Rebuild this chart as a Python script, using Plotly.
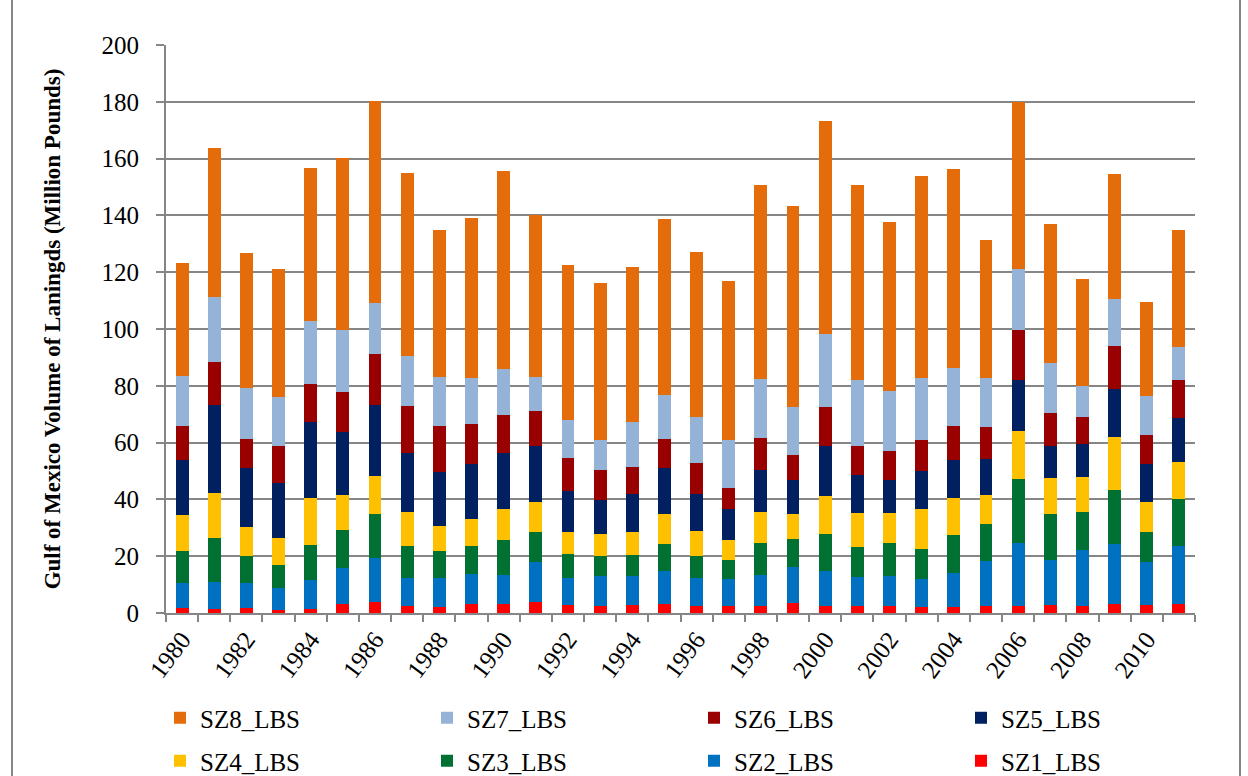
import plotly.graph_objects as go

years = list(range(1980, 2012))

SZ1_LBS = [1.8, 1.3, 1.8, 0.9, 1.3, 3.1, 3.8, 2.3, 2.2, 3.1, 3.1, 3.8, 2.8, 2.6, 2.9, 3.1,
           2.5, 2.5, 2.5, 3.4, 2.5, 2.5, 2.5, 2.1, 2.1, 2.3, 2.5, 2.8, 2.3, 3.2, 2.8, 3.2]
SZ2_LBS = [8.6, 9.6, 8.8, 7.9, 10.3, 12.7, 15.6, 10.1, 10.0, 10.6, 10.4, 14.0, 9.5, 10.4, 10.1, 11.8,
           9.8, 9.4, 11.0, 12.8, 12.2, 10.2, 10.6, 10.0, 12.0, 16.1, 22.0, 15.9, 19.8, 21.1, 15.2, 20.4]
SZ3_LBS = [11.3, 15.5, 9.6, 8.2, 12.3, 13.3, 15.6, 11.3, 9.5, 9.9, 12.1, 10.8, 8.4, 7.2, 7.4, 9.5,
           7.8, 6.6, 11.1, 9.7, 13.0, 10.5, 11.4, 10.6, 13.5, 12.8, 22.8, 16.0, 13.3, 19.0, 10.6, 16.7]
SZ4_LBS = [12.9, 15.7, 10.2, 9.4, 16.5, 12.4, 13.4, 11.7, 8.9, 9.4, 11.1, 10.6, 7.8, 7.6, 8.1, 10.3,
           8.9, 7.3, 11.1, 9.1, 13.6, 12.0, 10.8, 14.0, 12.8, 10.3, 16.9, 12.7, 12.4, 18.6, 10.6, 12.8]
SZ5_LBS = [19.4, 31.0, 20.5, 19.3, 26.9, 22.1, 24.8, 20.9, 19.0, 19.6, 19.5, 19.7, 14.3, 12.0, 13.5, 16.5,
           12.9, 10.7, 14.5, 11.7, 17.5, 13.4, 11.5, 13.2, 13.5, 12.7, 18.0, 11.4, 11.7, 17.1, 13.1, 15.6]
SZ6_LBS = [11.7, 15.4, 10.3, 13.0, 13.2, 14.3, 17.9, 16.7, 16.1, 13.9, 13.6, 12.1, 11.9, 10.4, 9.5, 10.0,
           11.0, 7.6, 11.4, 8.9, 13.9, 10.1, 10.2, 10.9, 11.8, 11.4, 17.6, 11.7, 9.6, 14.9, 10.3, 13.2]
SZ7_LBS = [17.9, 22.8, 17.9, 17.2, 22.2, 21.9, 17.9, 17.6, 17.3, 16.2, 16.2, 12.2, 13.4, 10.8, 15.8, 15.7,
           16.2, 16.9, 20.8, 16.8, 25.7, 23.5, 21.2, 22.1, 20.6, 17.1, 21.2, 17.5, 10.9, 16.6, 13.9, 11.6]
SZ8_LBS = [39.7, 52.3, 47.8, 45.4, 53.9, 60.5, 71.3, 64.5, 51.8, 56.4, 69.5, 57.0, 54.3, 55.1, 54.6, 61.9,
           57.9, 55.9, 68.2, 70.8, 74.9, 68.6, 59.4, 70.8, 70.1, 48.8, 59.0, 49.0, 37.7, 44.1, 32.9, 41.4]

tick_years = list(range(1980, 2011, 2))
tick_labels = [str(y) for y in tick_years]

# (name, values, colour, legend row, position in row)
series = [
    ("SZ1_LBS", SZ1_LBS, "#FF0000", "legend2", 4),
    ("SZ2_LBS", SZ2_LBS, "#0070C0", "legend2", 3),
    ("SZ3_LBS", SZ3_LBS, "#007033", "legend2", 2),
    ("SZ4_LBS", SZ4_LBS, "#FFC000", "legend2", 1),
    ("SZ5_LBS", SZ5_LBS, "#002060", "legend", 4),
    ("SZ6_LBS", SZ6_LBS, "#990000", "legend", 3),
    ("SZ7_LBS", SZ7_LBS, "#95B3D7", "legend", 2),
    ("SZ8_LBS", SZ8_LBS, "#E46C0A", "legend", 1),
]

fig = go.Figure()
for name, vals, color, leg, rank in series:
    fig.add_trace(go.Bar(
        x=years, y=vals, name=name,
        marker=dict(color=color, line=dict(width=0)),
        legend=leg, legendrank=rank,
    ))

font_family = "Liberation Serif, Times New Roman, serif"
W, H = 1248, 776
ML, MR, MT, MB = 166, 53, 45, 163
pw, ph = W - ML - MR, H - MT - MB

legend_common = dict(
    orientation="h",
    xref="paper", yref="paper",
    x=(160 - ML) / pw, xanchor="left", yanchor="middle",
    entrywidth=222, entrywidthmode="pixels",
    font=dict(family=font_family, size=25, color="black"),
    traceorder="normal",
    bgcolor="rgba(0,0,0,0)",
)

fig.update_layout(
    barmode="stack",
    bargap=0.6,
    width=W, height=H,
    paper_bgcolor="white", plot_bgcolor="white",
    margin=dict(l=ML, r=MR, t=MT, b=MB, autoexpand=False),
    font=dict(family=font_family, size=24, color="black"),
    showlegend=True,
    legend=dict(legend_common, y=-(718 - (H - MB)) / ph),
    legend2=dict(legend_common, y=-(761 - (H - MB)) / ph),
    xaxis=dict(
        range=[1979.5, 2011.5],
        tickmode="array",
        tickvals=tick_years,
        ticktext=tick_labels,
        tickangle=-53,
        ticks="",
        showgrid=False,
        showline=True, linecolor="#868686", linewidth=2,
        tickfont=dict(family=font_family, size=25, color="black"),
        minor=dict(tick0=1979.5, dtick=1, ticks="outside", ticklen=7,
                   tickcolor="#868686", tickwidth=2, showgrid=False),
        zeroline=False,
        automargin=False,
    ),
    yaxis=dict(
        range=[0, 200],
        tickmode="array",
        tickvals=[0, 20, 40, 60, 80, 100, 120, 140, 160, 180, 200],
        showgrid=True, gridcolor="#868686", gridwidth=2,
        showline=True, linecolor="#868686", linewidth=2,
        ticks="outside", ticklen=8, tickcolor="#868686", tickwidth=2,
        tickfont=dict(family=font_family, size=25, color="black"),
        ticklabelstandoff=12,
        zeroline=False,
        automargin=False,
        title=dict(text="<b>Gulf of Mexico Volume of Laningds (Million Pounds)</b>",
                   font=dict(family=font_family, size=23, color="black"),
                   standoff=34),
    ),
)

# outer chart border (Excel chart area frame), only the side edges are visible
fig.add_shape(type="rect", xref="paper", yref="paper",
              x0=(12 - ML) / pw, x1=(1240 - ML) / pw,
              y0=-(MB + 30) / ph, y1=(MT + 30) / ph + 1,
              line=dict(color="#868686", width=2), fillcolor="rgba(0,0,0,0)",
              layer="below")

fig.write_html("out.html",
               config={"displayModeBar": False},
               post_script="document.body.style.margin='0px';document.body.style.overflow='hidden';")
